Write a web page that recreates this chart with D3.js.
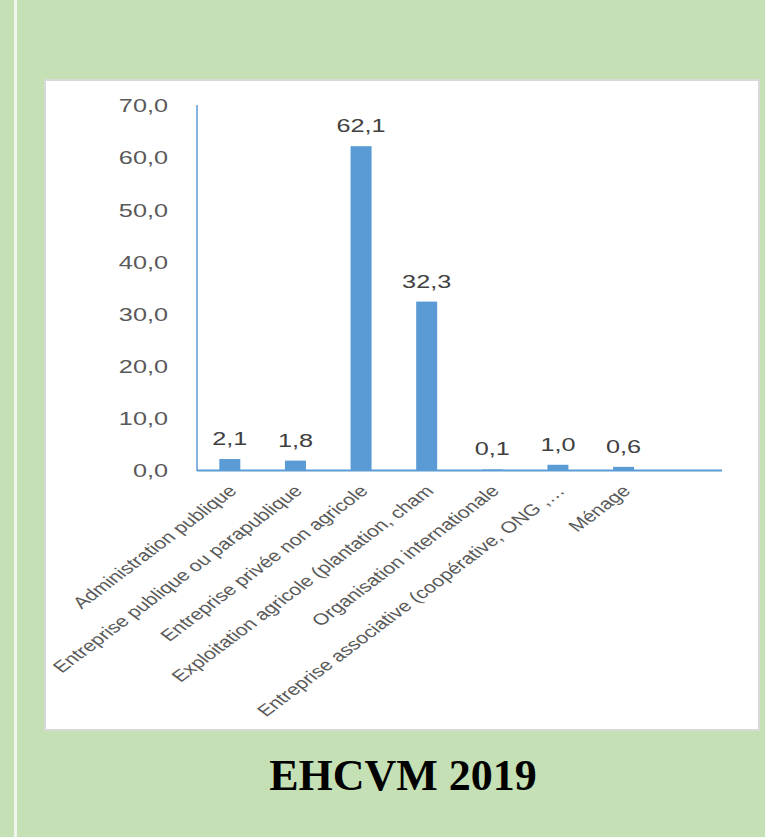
<!DOCTYPE html>
<html><head><meta charset="utf-8">
<script src="https://cdn.jsdelivr.net/npm/d3@7"></script>
<style>body{margin:0;background:#c5e0b4}svg{display:block}</style>
</head><body><svg id="c" width="765" height="837"></svg>
<script>
const categories = [
  "Administration publique",
  "Entreprise publique ou parapublique",
  "Entreprise privée non agricole",
  "Exploitation agricole (plantation, cham",
  "Organisation internationale",
  "Entreprise associative (coopérative, ONG ,…",
  "Ménage",
  ""
];
const values = [2.1, 1.8, 62.1, 32.3, 0.1, 1.0, 0.6, null];
const yTicks = [0, 10, 20, 30, 40, 50, 60, 70];
const title = "EHCVM 2019";

const fmt = v => d3.format(".1f")(v).replace(".", ",");
const svg = d3.select("#c");
const SX = 1.33; // horizontal stretch of the source picture

// background + decorations
svg.append("rect").attr("width", 765).attr("height", 837).attr("fill", "#c5e0b4");
svg.append("rect").attr("x", 14).attr("y", 0).attr("width", 3).attr("height", 837).attr("fill", "#f2f7ee");
svg.append("rect").attr("x", 45).attr("y", 80).attr("width", 714).attr("height", 650)
  .attr("fill", "#fff").attr("stroke", "#d9d9d9").attr("stroke-width", 2);

const x = d3.scaleBand().domain(d3.range(categories.length)).range([197, 722])
  .paddingInner(0.68).paddingOuter(0.34);
const y = d3.scaleLinear().domain([0, 70]).range([470, 105]);

// bars
svg.append("g").selectAll("rect").data(values.map((v, i) => ({v, i})).filter(d => d.v != null))
  .join("rect")
  .attr("x", d => x(d.i)).attr("width", x.bandwidth())
  .attr("y", d => y(d.v)).attr("height", d => y(0) - y(d.v))
  .attr("fill", "#5b9bd5");

// y axis (labels via d3 axis)
const gy = svg.append("g").attr("transform", "translate(197,0)")
  .call(d3.axisLeft(y).tickValues(yTicks).tickSize(0).tickFormat(fmt));
gy.select(".domain").remove();
gy.selectAll("text")
  .attr("x", null).attr("dy", "0.36em")
  .attr("transform", `translate(-29,0) scale(${SX},1)`)
  .attr("fill", "#595959").style("font-family", "'Liberation Sans', Arial, sans-serif")
  .style("font-size", "19px").attr("text-anchor", "end");
svg.append("line").attr("x1", 197).attr("x2", 197).attr("y1", 105).attr("y2", 471)
  .attr("stroke", "#5b9bd5").attr("stroke-width", 1.5);

// x axis
svg.append("line").attr("x1", 197).attr("x2", 722).attr("y1", 470.5).attr("y2", 470.5)
  .attr("stroke", "#5b9bd5").attr("stroke-width", 2);

// value labels
svg.append("g").selectAll("text").data(values.map((v, i) => ({v, i})).filter(d => d.v != null))
  .join("text")
  .attr("transform", d => `translate(${x(d.i) + x.bandwidth() / 2},${y(d.v) - 14}) scale(${SX},1)`)
  .attr("text-anchor", "middle").attr("fill", "#404040")
  .style("font-family", "'Liberation Sans', Arial, sans-serif").style("font-size", "19px")
  .text(d => fmt(d.v));

// category labels
svg.append("g").selectAll("text").data(categories.map((c, i) => ({c, i})))
  .join("text")
  .attr("transform", d => `translate(${x(d.i) + x.bandwidth() / 2 + 8},492) scale(${SX},1) rotate(-45)`)
  .attr("text-anchor", "end").attr("fill", "#595959")
  .style("font-family", "'Liberation Sans', Arial, sans-serif").style("font-size", "16px")
  .text(d => d.c);

// title
svg.append("text").attr("x", 403).attr("y", 790).attr("text-anchor", "middle")
  .style("font-family", "'Liberation Serif', 'Times New Roman', serif")
  .style("font-weight", "bold").style("font-size", "44px").attr("fill", "#000")
  .text(title);
</script></body></html>
